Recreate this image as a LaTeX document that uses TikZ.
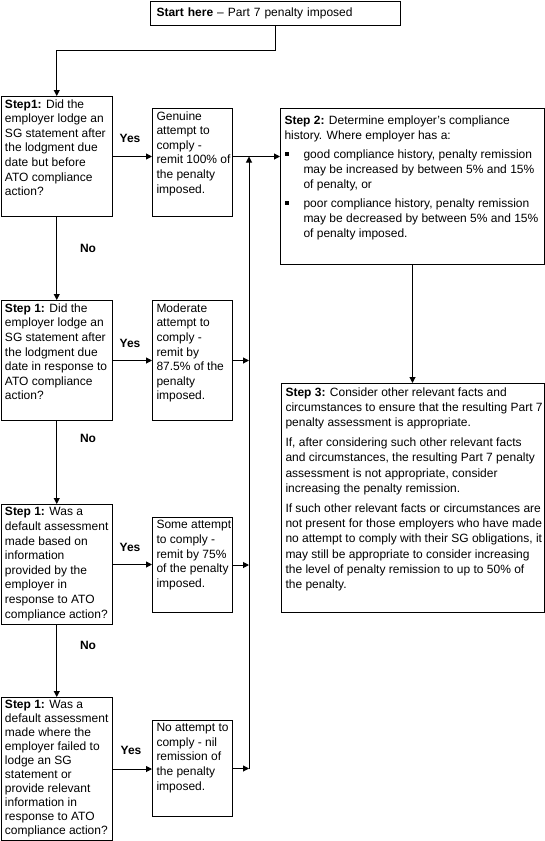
\documentclass[tikz,border=0pt]{standalone}
\usepackage{fontspec}
\setmainfont{Liberation Sans}
\usetikzlibrary{arrows.meta}
\newcommand\btext[3]{\parbox[c][#1][t]{#2}{\rightskip=0pt plus 1fil minus 60pt\relax #3}}
\newcommand\sqbul{\makebox[19pt][l]{\hspace{0.5pt}\rule[2.5pt]{3.5pt}{3.5pt}}}
\begin{document}
\begin{tikzpicture}[x=1pt,y=-1pt,
  every node/.style={font=\fontsize{12}{14.6}\selectfont},
  box/.style={draw, line width=1pt, anchor=north west, inner xsep=4pt, inner ysep=3pt},
  lbl/.style={font=\fontsize{12}{14.6}\selectfont\bfseries, inner sep=0pt},
  arr/.style={line width=1pt, -{Triangle[length=6pt,width=6pt]}}]
\useasboundingbox (0,0) rectangle (545,841);

% start
\node[box, text width=238pt, align=left, minimum height=24pt, inner xsep=6pt, inner ysep=0pt] (start) at (150,0.5)
  {\textbf{Start here} – Part 7 penalty imposed};

% question boxes
\node[box] (qa) at (0.5,96) {\btext{114pt}{103.5pt}{\textbf{Step1:} Did the\\employer lodge an\\SG statement after\\the lodgment due\\date but before\\ATO compliance\\action?}};
\node[box] (qb) at (0.5,300) {\btext{114pt}{103.5pt}{\textbf{Step 1:} Did the\\employer lodge an\\SG statement after\\the lodgment due\\date in response to\\ATO compliance\\action?}};
\node[box] (qc) at (0.5,504) {\btext{114pt}{103.5pt}{\textbf{Step 1:} Was a\\default assessment\\made based on\\information\\provided by the\\employer in\\response to ATO\\compliance action?}};
\node[box, inner ysep=2.5pt] (qd) at (0.5,697) {\btext{138pt}{103.5pt}{\fontsize{12}{14}\selectfont\textbf{Step 1:} Was a\\default assessment\\made where the\\employer failed to\\lodge an SG\\statement or\\provide relevant\\information in\\response to ATO\\compliance action?}};

% action boxes
\node[box] (ga) at (152,108) {\btext{102pt}{72pt}{Genuine\\attempt to\\comply -\\remit 100\% of\\the penalty\\imposed.}};
\node[box] (ma) at (152,300) {\btext{114pt}{72pt}{Moderate\\attempt to\\comply -\\remit by\\87.5\% of the\\penalty\\imposed.}};
\node[box] (sa) at (152,517) {\btext{89pt}{72pt}{Some attempt\\to comply -\\remit by 75\%\\of the penalty\\imposed.}};
\node[box] (na) at (152,720) {\btext{90pt}{72pt}{No attempt to\\comply - nil\\remission of\\the penalty\\imposed.}};

% step 2 and 3
\node[box, inner ysep=7pt] (s2) at (280,108) {\btext{142pt}{256pt}{\fontsize{12}{15}\selectfont
\textbf{Step 2:} Determine employer\symbol{39}s compliance\\history. Where employer has a:\par\vspace{4pt}
\hangindent=19pt\hangafter=1 \sqbul good compliance history, penalty remission\\may be increased by between 5\% and 15\%\\of penalty, or\par\vspace{4pt}
\hangindent=19pt\hangafter=1 \sqbul poor compliance history, penalty remission\\may be decreased by between 5\% and 15\%\\of penalty imposed.}};
\node[box, inner ysep=4pt] (s3) at (281,383) {\btext{221pt}{255pt}{\fontsize{12}{15.3}\selectfont
\textbf{Step 3:} Consider other relevant facts and\\circumstances to ensure that the resulting Part 7\\penalty assessment is appropriate.\par\vspace{4.5pt}
If, after considering such other relevant facts\\and circumstances, the resulting Part 7 penalty\\assessment is not appropriate, consider\\increasing the penalty remission.\par\vspace{4.5pt}
If such other relevant facts or circumstances are\\not present for those employers who have made\\no attempt to comply with their SG obligations, it\\may still be appropriate to consider increasing\\the level of penalty remission to up to 50\% of\\the penalty.}};

% labels
\node[lbl] (y1) at (130,138) {Yes};
\node[lbl] (y2) at (130,343) {Yes};
\node[lbl] (y3) at (130,547) {Yes};
\node[lbl] (y4) at (131,750) {Yes};
\node[lbl] (n1) at (88,248) {No};
\node[lbl] (n2) at (88,438) {No};
\node[lbl] (n3) at (88,645) {No};

% connectors
\coordinate (cx) at (249,0);
\draw[arr] (start.south) -- ++(0,25) -| (qa.north);
\draw[arr] (qa.south) -- (qb.north);
\draw[arr] (qb.south) -- (qc.north);
\draw[arr] (qc.south) -- (qd.north);
\draw[arr] (qa.east) -- (qa.east -| ga.west);
\draw[arr] (qb.east) -- (qb.east -| ma.west);
\draw[arr] (qc.east) -- (qc.east -| sa.west);
\draw[arr] (qd.east) -- (qd.east -| na.west);
\draw[arr] (ga.east |- qa.east) -- (qa.east -| s2.west);
\draw[arr] (ma.east) -- (ma.east -| cx);
\draw[arr] (sa.east) -- (sa.east -| cx);
\draw[arr] (na.east) -- (na.east -| cx);
\draw[arr] (cx |- na.east) -- (cx |- qa.east);
\draw[arr] (s2.south) -- (s2.south |- s3.north);
\end{tikzpicture}
\end{document}
